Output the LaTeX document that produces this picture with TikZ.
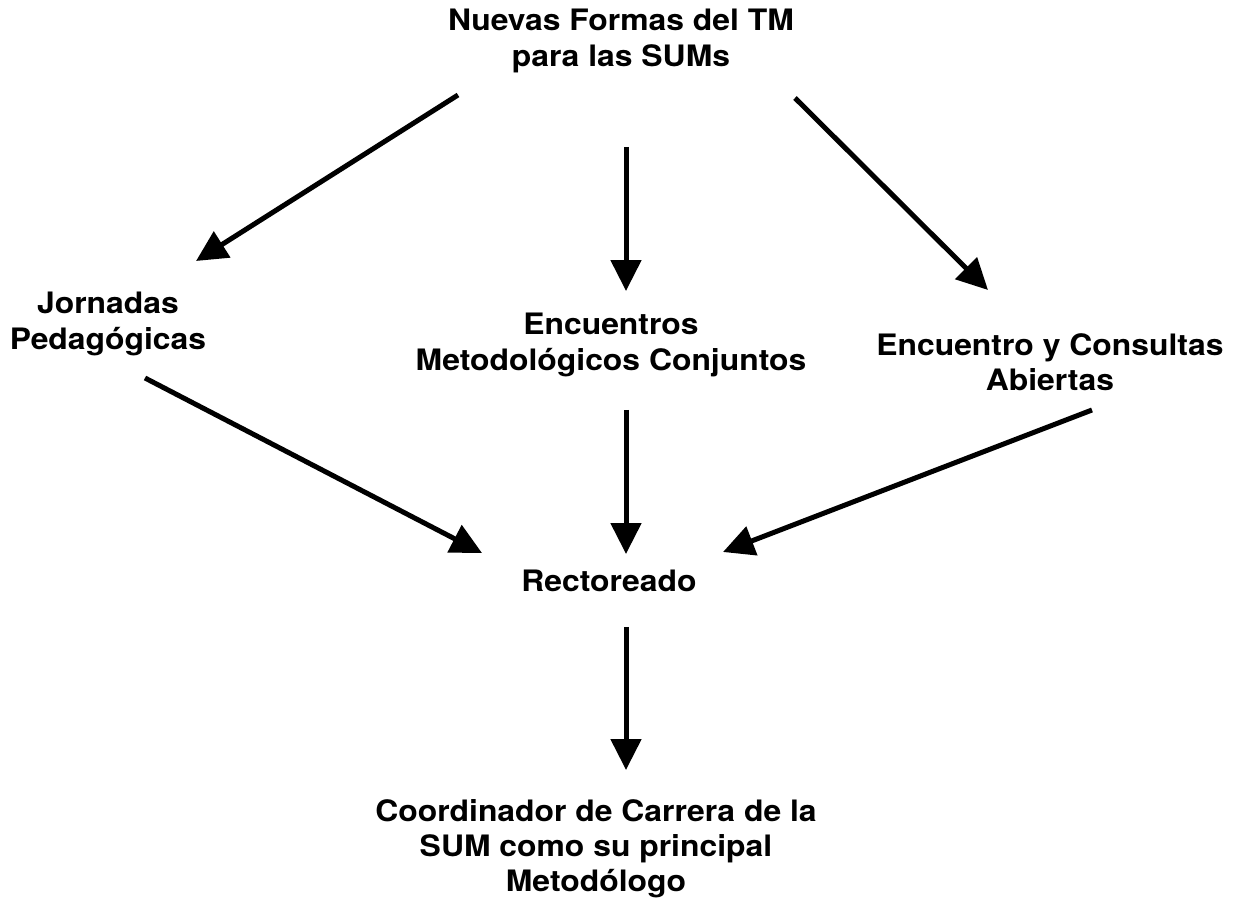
\documentclass[tikz,border=0pt]{standalone}
\usepackage{fontspec}
\setmainfont{TeX Gyre Heros}[FakeStretch=1.08]
\usetikzlibrary{arrows.meta}

\begin{document}
\begin{tikzpicture}[x=0.02cm,y=-0.02cm,->,>={Triangle[length=0.62cm,width=0.6cm]},
  line width=0.1cm]
  \tikzstyle{every node}=[align=center,font=\fontsize{16.8}{20}\selectfont\bfseries]

  \useasboundingbox (0,0) rectangle (1242,918);

  \node (TM)         at (621,41)  {Nuevas Formas del TM\\para las SUMs};
  \node (Jornadas)   at (108,324) {Jornadas\\Pedagógicas};
  \node (Encuentros) at (611,345) {Encuentros\\Metodológicos Conjuntos};
  \node (Consultas)  at (1050,362) {Encuentro y Consultas\\Abiertas};
  \node (Rector)     at (609,581) {Rectoreado};
  \node (Coord)      at (596,849) {Coordinador de Carrera de la\\SUM como su principal\\Metodólogo};

  \path ([shift={(-163,54)}]TM.center) edge ([shift={(88,-63)}]Jornadas.center)
        ([shift={(5,106)}]TM.center)   edge ([shift={(15,-54)}]Encuentros.center)
        ([shift={(174,57)}]TM.center)  edge ([shift={(-62,-72)}]Consultas.center)
        ([shift={(37,54)}]Jornadas.center)  edge ([shift={(-127,-28)}]Rector.center)
        ([shift={(15,65)}]Encuentros.center) edge ([shift={(17,-27)}]Rector.center)
        ([shift={(42,48)}]Consultas.center) edge ([shift={(114,-29)}]Rector.center)
        ([shift={(17,46)}]Rector.center)    edge ([shift={(30,-79)}]Coord.center)
        ;
\end{tikzpicture}
\end{document}
